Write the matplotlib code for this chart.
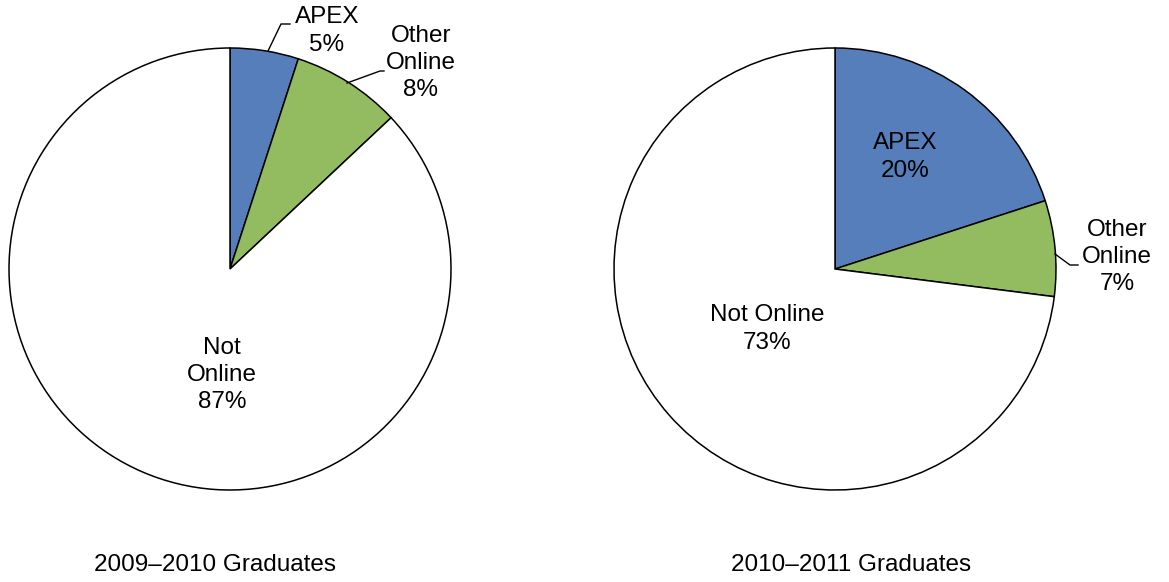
import numpy as np
import matplotlib.pyplot as plt

plt.rcParams['font.family'] = ['Liberation Sans', 'DejaVu Sans']

categories = ["APEX", "Other\nOnline", "Not\nOnline"]
share_0910 = [5, 8, 87]
share_1011 = [20, 7, 73]
titles = ["2009\u20132010 Graduates", "2010\u20132011 Graduates"]
colors = ["#557EBA", "#93BB60", "white"]

W, H = 1169, 582
fig = plt.figure(figsize=(W / 100, H / 100), dpi=100)
ax = fig.add_axes([0, 0, 1, 1])

def py(y):
    # pixel row (top down) -> data y
    return H - y

R = 221
centers = [(230, py(269)), (835, py(269))]

for vals, c in zip([share_0910, share_1011], centers):
    ax.pie(vals, colors=colors, startangle=90, counterclock=False,
           center=c, radius=R, frame=True,
           wedgeprops=dict(edgecolor="black", linewidth=1.1))

fs = 17.5
ls = 1.3
# left pie labels
ax.text(327, py(31), "APEX\n%d%%" % share_0910[0], ha="center", va="center",
        fontsize=fs, linespacing=ls)
ax.plot([268, 281, 290], [py(51), py(24), py(24)], color="black", lw=1)
ax.text(421, py(63), "Other\nOnline\n%d%%" % share_0910[1], ha="center",
        va="center", fontsize=fs, linespacing=ls)
ax.plot([347, 380, 384], [py(83), py(71), py(71)], color="black", lw=1)
ax.text(222, py(375), "Not\nOnline\n%d%%" % share_0910[2], ha="center",
        va="center", fontsize=fs, linespacing=ls)

# right pie labels
ax.text(905, py(157), "APEX\n%d%%" % share_1011[0], ha="center", va="center",
        fontsize=fs, linespacing=ls)
ax.text(1117, py(257), "Other\nOnline\n%d%%" % share_1011[1], ha="center",
        va="center", fontsize=fs, linespacing=ls)
ax.plot([1055, 1070, 1078], [py(254), py(265), py(265)], color="black", lw=1)
ax.text(767, py(329), "Not Online\n%d%%" % share_1011[2], ha="center",
        va="center", fontsize=fs, linespacing=ls)

# titles
ax.text(215, py(565), titles[0], ha="center", va="center", fontsize=fs)
ax.text(851, py(565), titles[1], ha="center", va="center", fontsize=fs)

ax.set_xlim(0, W)
ax.set_ylim(0, H)
ax.set_aspect("equal")
ax.axis("off")

fig.savefig("out.png", dpi=100, facecolor="white")
